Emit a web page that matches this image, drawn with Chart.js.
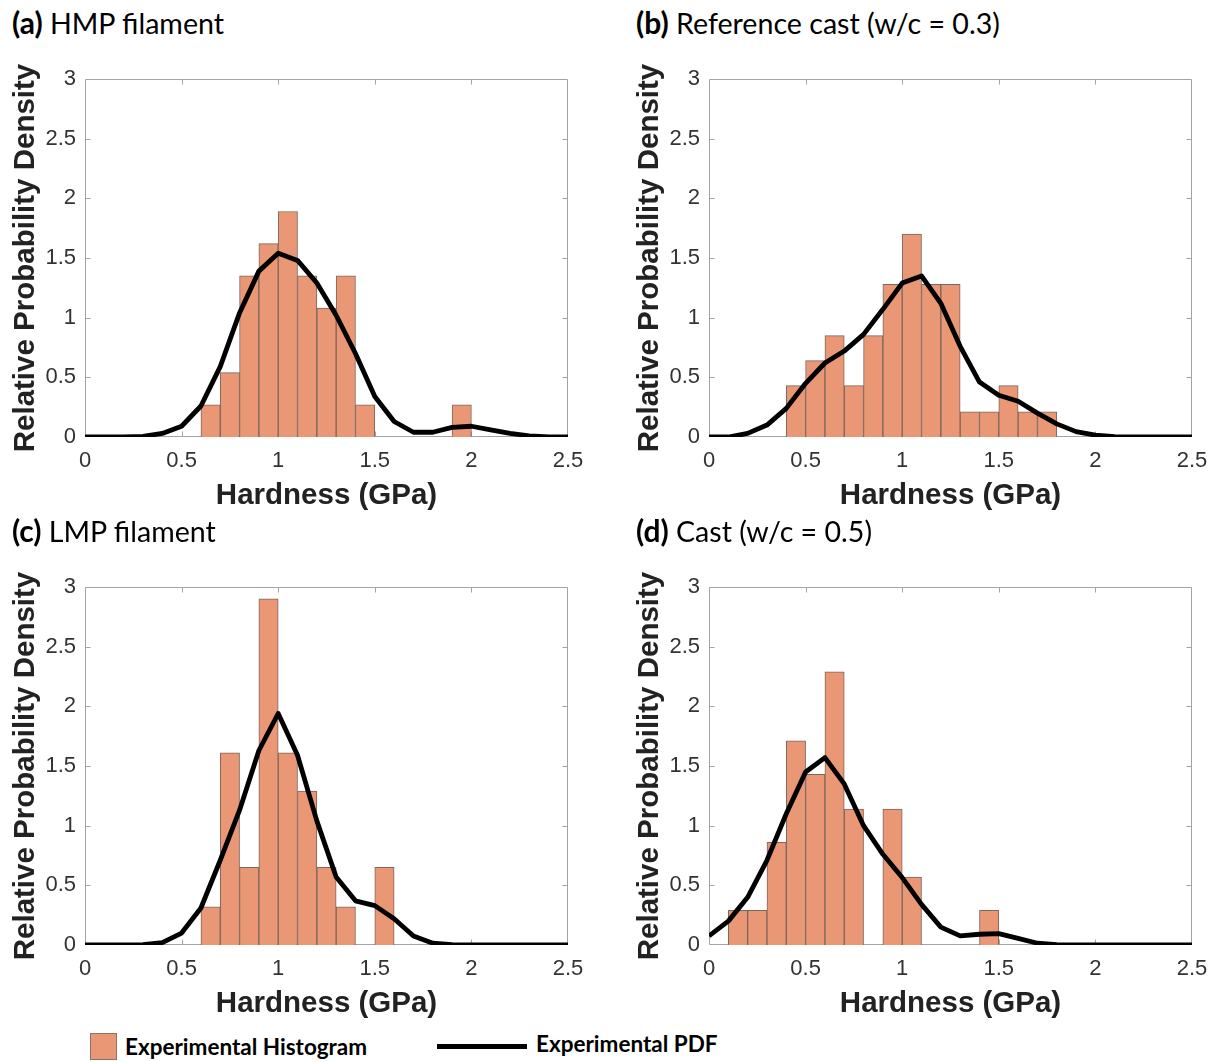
<!DOCTYPE html>
<html>
<head>
<meta charset="utf-8">
<script src="https://cdn.jsdelivr.net/npm/chart.js@4.4.1/dist/chart.umd.min.js"></script>
<style>
  html, body { margin: 0; padding: 0; background: #fff; }
  body { width: 1217px; height: 1062px; position: relative; overflow: hidden; }
  canvas { position: absolute; }
  .ptitle { position: absolute; font-family: Lato, "Open Sans", sans-serif; font-size: 28.6px; line-height: 32px; color: #000; white-space: nowrap; }
  .ptitle b { font-weight: 700; font-size: 30px; }
  .legend { position: absolute; font-family: Lato, "Open Sans", sans-serif; font-weight: 700; font-size: 22.5px; line-height: 26px; color: #000; white-space: nowrap; }
  .swatch { position: absolute; background: rgb(233,151,117); border: 1px solid #8a7368; box-sizing: border-box; }
  .pdfkey { position: absolute; background: #000; }
</style>
</head>
<body>
<script>
// Hardness histograms (bin left edges, bin width 0.1 GPa) and fitted PDFs
const binWidth = 0.1;
const hardnessTicks = ['0', '0.5', '1', '1.5', '2', '2.5'];
const densityTicks = ['0', '0.5', '1', '1.5', '2', '2.5', '3'];
const pdfGrid = [0, 0.1, 0.2, 0.3, 0.4, 0.5, 0.6, 0.7, 0.8, 0.9, 1.0, 1.1, 1.2,
                 1.3, 1.4, 1.5, 1.6, 1.7, 1.8, 1.9, 2.0, 2.1, 2.2, 2.3, 2.4, 2.5];

// (a) HMP filament
const hmpBinLeft = [0.6, 0.7, 0.8, 0.9, 1.0, 1.1, 1.2, 1.3, 1.4, 1.9];
const hmpHist    = [0.27, 0.54, 1.35, 1.62, 1.89, 1.35, 1.08, 1.35, 0.27, 0.27];
const hmpPdf     = [0, 0, 0, 0.005, 0.03, 0.09, 0.26, 0.59, 1.04, 1.39, 1.54, 1.48, 1.29,
                    1.02, 0.70, 0.34, 0.13, 0.04, 0.04, 0.08, 0.09, 0.06, 0.03, 0.01, 0, 0];

// (b) Reference cast, w/c = 0.3
const refBinLeft = [0.4, 0.5, 0.6, 0.7, 0.8, 0.9, 1.0, 1.1, 1.2, 1.3, 1.4, 1.5, 1.6, 1.7];
const refHist    = [0.43, 0.64, 0.85, 0.43, 0.85, 1.28, 1.70, 1.28, 1.28, 0.21, 0.21, 0.43, 0.21, 0.21];
const refPdf     = [0, 0, 0.03, 0.10, 0.24, 0.45, 0.62, 0.72, 0.86, 1.07, 1.29, 1.35, 1.12,
                    0.76, 0.46, 0.35, 0.30, 0.20, 0.11, 0.045, 0.015, 0.003, 0, 0, 0, 0];

// (c) LMP filament
const lmpBinLeft = [0.6, 0.7, 0.8, 0.9, 1.0, 1.1, 1.2, 1.3, 1.5];
const lmpHist    = [0.32, 1.61, 0.65, 2.90, 1.61, 1.29, 0.65, 0.32, 0.65];
const lmpPdf     = [0, 0, 0, 0.003, 0.02, 0.10, 0.31, 0.71, 1.13, 1.63, 1.94, 1.59, 1.04,
                    0.57, 0.37, 0.33, 0.22, 0.076, 0.015, 0.003, 0, 0, 0, 0, 0, 0];

// (d) Cast, w/c = 0.5
const castBinLeft = [0.1, 0.2, 0.3, 0.4, 0.5, 0.6, 0.7, 0.9, 1.0, 1.4];
const castHist    = [0.29, 0.29, 0.86, 1.71, 1.43, 2.29, 1.14, 1.14, 0.57, 0.29];
const castPdf     = [0.076, 0.20, 0.40, 0.71, 1.10, 1.45, 1.57, 1.35, 1.00, 0.76, 0.565, 0.34, 0.15,
                     0.076, 0.09, 0.095, 0.056, 0.015, 0.003, 0, 0, 0, 0, 0, 0, 0];

const panels = [
  { tag: '(a)', name: 'HMP filament',                left: 0,   top: 0,   bins: hmpBinLeft,  hist: hmpHist,  pdf: hmpPdf },
  { tag: '(b)', name: 'Reference cast (w/c = 0.3)',  left: 624, top: 0,   bins: refBinLeft,  hist: refHist,  pdf: refPdf },
  { tag: '(c)', name: 'LMP filament',                left: 0,   top: 508, bins: lmpBinLeft,  hist: lmpHist,  pdf: lmpPdf },
  { tag: '(d)', name: 'Cast (w/c = 0.5)',            left: 624, top: 508, bins: castBinLeft, hist: castHist, pdf: castPdf }
];

const BAR_FILL = 'rgb(233,151,117)';
const BAR_EDGE = '#7d665b';
const AXIS_GREY = '#a3a3a3';
const SANS = "'Liberation Sans', Arial, Helvetica, sans-serif";

// Full box around the plot area with short inward tick marks
const frameAndTicks = {
  id: 'frameAndTicks',
  beforeDatasetsDraw(chart) {
    const { ctx, chartArea: a, scales: { x, y } } = chart;
    const L = Math.round(a.left) + 0.5, R = Math.round(a.right) - 0.5;
    const T = Math.round(a.top) + 0.5, B = Math.round(a.bottom) - 0.5;
    const len = 5;
    ctx.save();
    ctx.strokeStyle = AXIS_GREY;
    ctx.lineWidth = 1;
    ctx.beginPath();
    ctx.rect(L, T, R - L, B - T);
    x.ticks.forEach(t => {
      const px = Math.round(x.getPixelForValue(t.value)) + 0.5;
      if (px <= L + 1 || px >= R - 1) return;
      ctx.moveTo(px, B); ctx.lineTo(px, B - len);
      ctx.moveTo(px, T); ctx.lineTo(px, T + len);
    });
    y.ticks.forEach(t => {
      const py = Math.round(y.getPixelForValue(t.value)) + 0.5;
      if (py <= T + 1 || py >= B - 1) return;
      ctx.moveTo(L, py); ctx.lineTo(L + len, py);
      ctx.moveTo(R, py); ctx.lineTo(R - len, py);
    });
    ctx.stroke();
    ctx.restore();
  }
};

panels.forEach(p => {
  const title = document.createElement('div');
  title.className = 'ptitle';
  title.style.left = (p.left + 12) + 'px';
  title.style.top = (p.top + 6) + 'px';
  title.innerHTML = '<b>' + p.tag + '</b> ' + p.name;
  document.body.appendChild(title);

  const cv = document.createElement('canvas');
  cv.width = 590; cv.height = 470;
  cv.style.left = p.left + 'px';
  cv.style.top = (p.top + 50) + 'px';
  document.body.appendChild(cv);

  const histPoints = p.bins.map((b, i) => ({ x: b + binWidth / 2, y: p.hist[i] }));
  const pdfPoints = pdfGrid.map((g, i) => ({ x: g, y: p.pdf[i] }));

  new Chart(cv, {
    type: 'bar',
    data: {
      datasets: [
        {
          type: 'line',
          label: 'Experimental PDF',
          data: pdfPoints,
          borderColor: '#000',
          borderWidth: 4.8,
          pointRadius: 0,
          tension: 0,
          borderJoinStyle: 'round',
          order: 0
        },
        {
          type: 'bar',
          label: 'Experimental Histogram',
          data: histPoints,
          backgroundColor: BAR_FILL,
          borderColor: BAR_EDGE,
          borderWidth: 1,
          barPercentage: 1,
          categoryPercentage: 1,
          order: 1
        }
      ]
    },
    options: {
      responsive: false,
      animation: false,
      devicePixelRatio: 1,
      layout: { padding: { top: 29, right: 22, bottom: 0, left: 0 } },
      plugins: { legend: { display: false }, tooltip: { enabled: false } },
      scales: {
        x: {
          type: 'linear',
          min: 0, max: 2.5,
          offset: false,
          grid: { display: false, drawTicks: false },
          border: { display: false },
          ticks: {
            stepSize: 0.5,
            padding: 11,
            color: '#333',
            font: { family: SANS, size: 22 },
            maxRotation: 0,
            callback: (v, i) => hardnessTicks[i]
          },
          title: {
            display: true,
            text: 'Hardness (GPa)',
            color: '#222',
            font: { family: SANS, size: 29.5, weight: 'bold' },
            padding: { top: 0, bottom: 6 }
          },
          afterFit: s => { s.height = 83; s.paddingLeft = 0; s.paddingRight = 0; }
        },
        y: {
          min: 0, max: 3,
          grid: { display: false, drawTicks: false },
          border: { display: false },
          ticks: {
            stepSize: 0.5,
            padding: 9,
            color: '#333',
            font: { family: SANS, size: 22 },
            callback: (v, i) => densityTicks[i]
          },
          title: {
            display: true,
            text: 'Relative Probability Density',
            color: '#222',
            font: { family: SANS, size: 29.5, weight: 'bold' },
            padding: { top: 8, bottom: 0 }
          },
          afterFit: s => { s.width = 85; s.paddingTop = 0; s.paddingBottom = 0; }
        }
      }
    },
    plugins: [frameAndTicks]
  });
});

// Shared key below the panels
const sw = document.createElement('div');
sw.className = 'swatch';
Object.assign(sw.style, { left: '90px', top: '1033px', width: '27px', height: '27px' });
document.body.appendChild(sw);
const t1 = document.createElement('div');
t1.className = 'legend';
Object.assign(t1.style, { left: '125px', top: '1034px' });
t1.textContent = 'Experimental Histogram';
document.body.appendChild(t1);
const ln = document.createElement('div');
ln.className = 'pdfkey';
Object.assign(ln.style, { left: '437px', top: '1044px', width: '90px', height: '5px' });
document.body.appendChild(ln);
const t2 = document.createElement('div');
t2.className = 'legend';
Object.assign(t2.style, { left: '536px', top: '1031px' });
t2.textContent = 'Experimental PDF';
document.body.appendChild(t2);
</script>
</body>
</html>
